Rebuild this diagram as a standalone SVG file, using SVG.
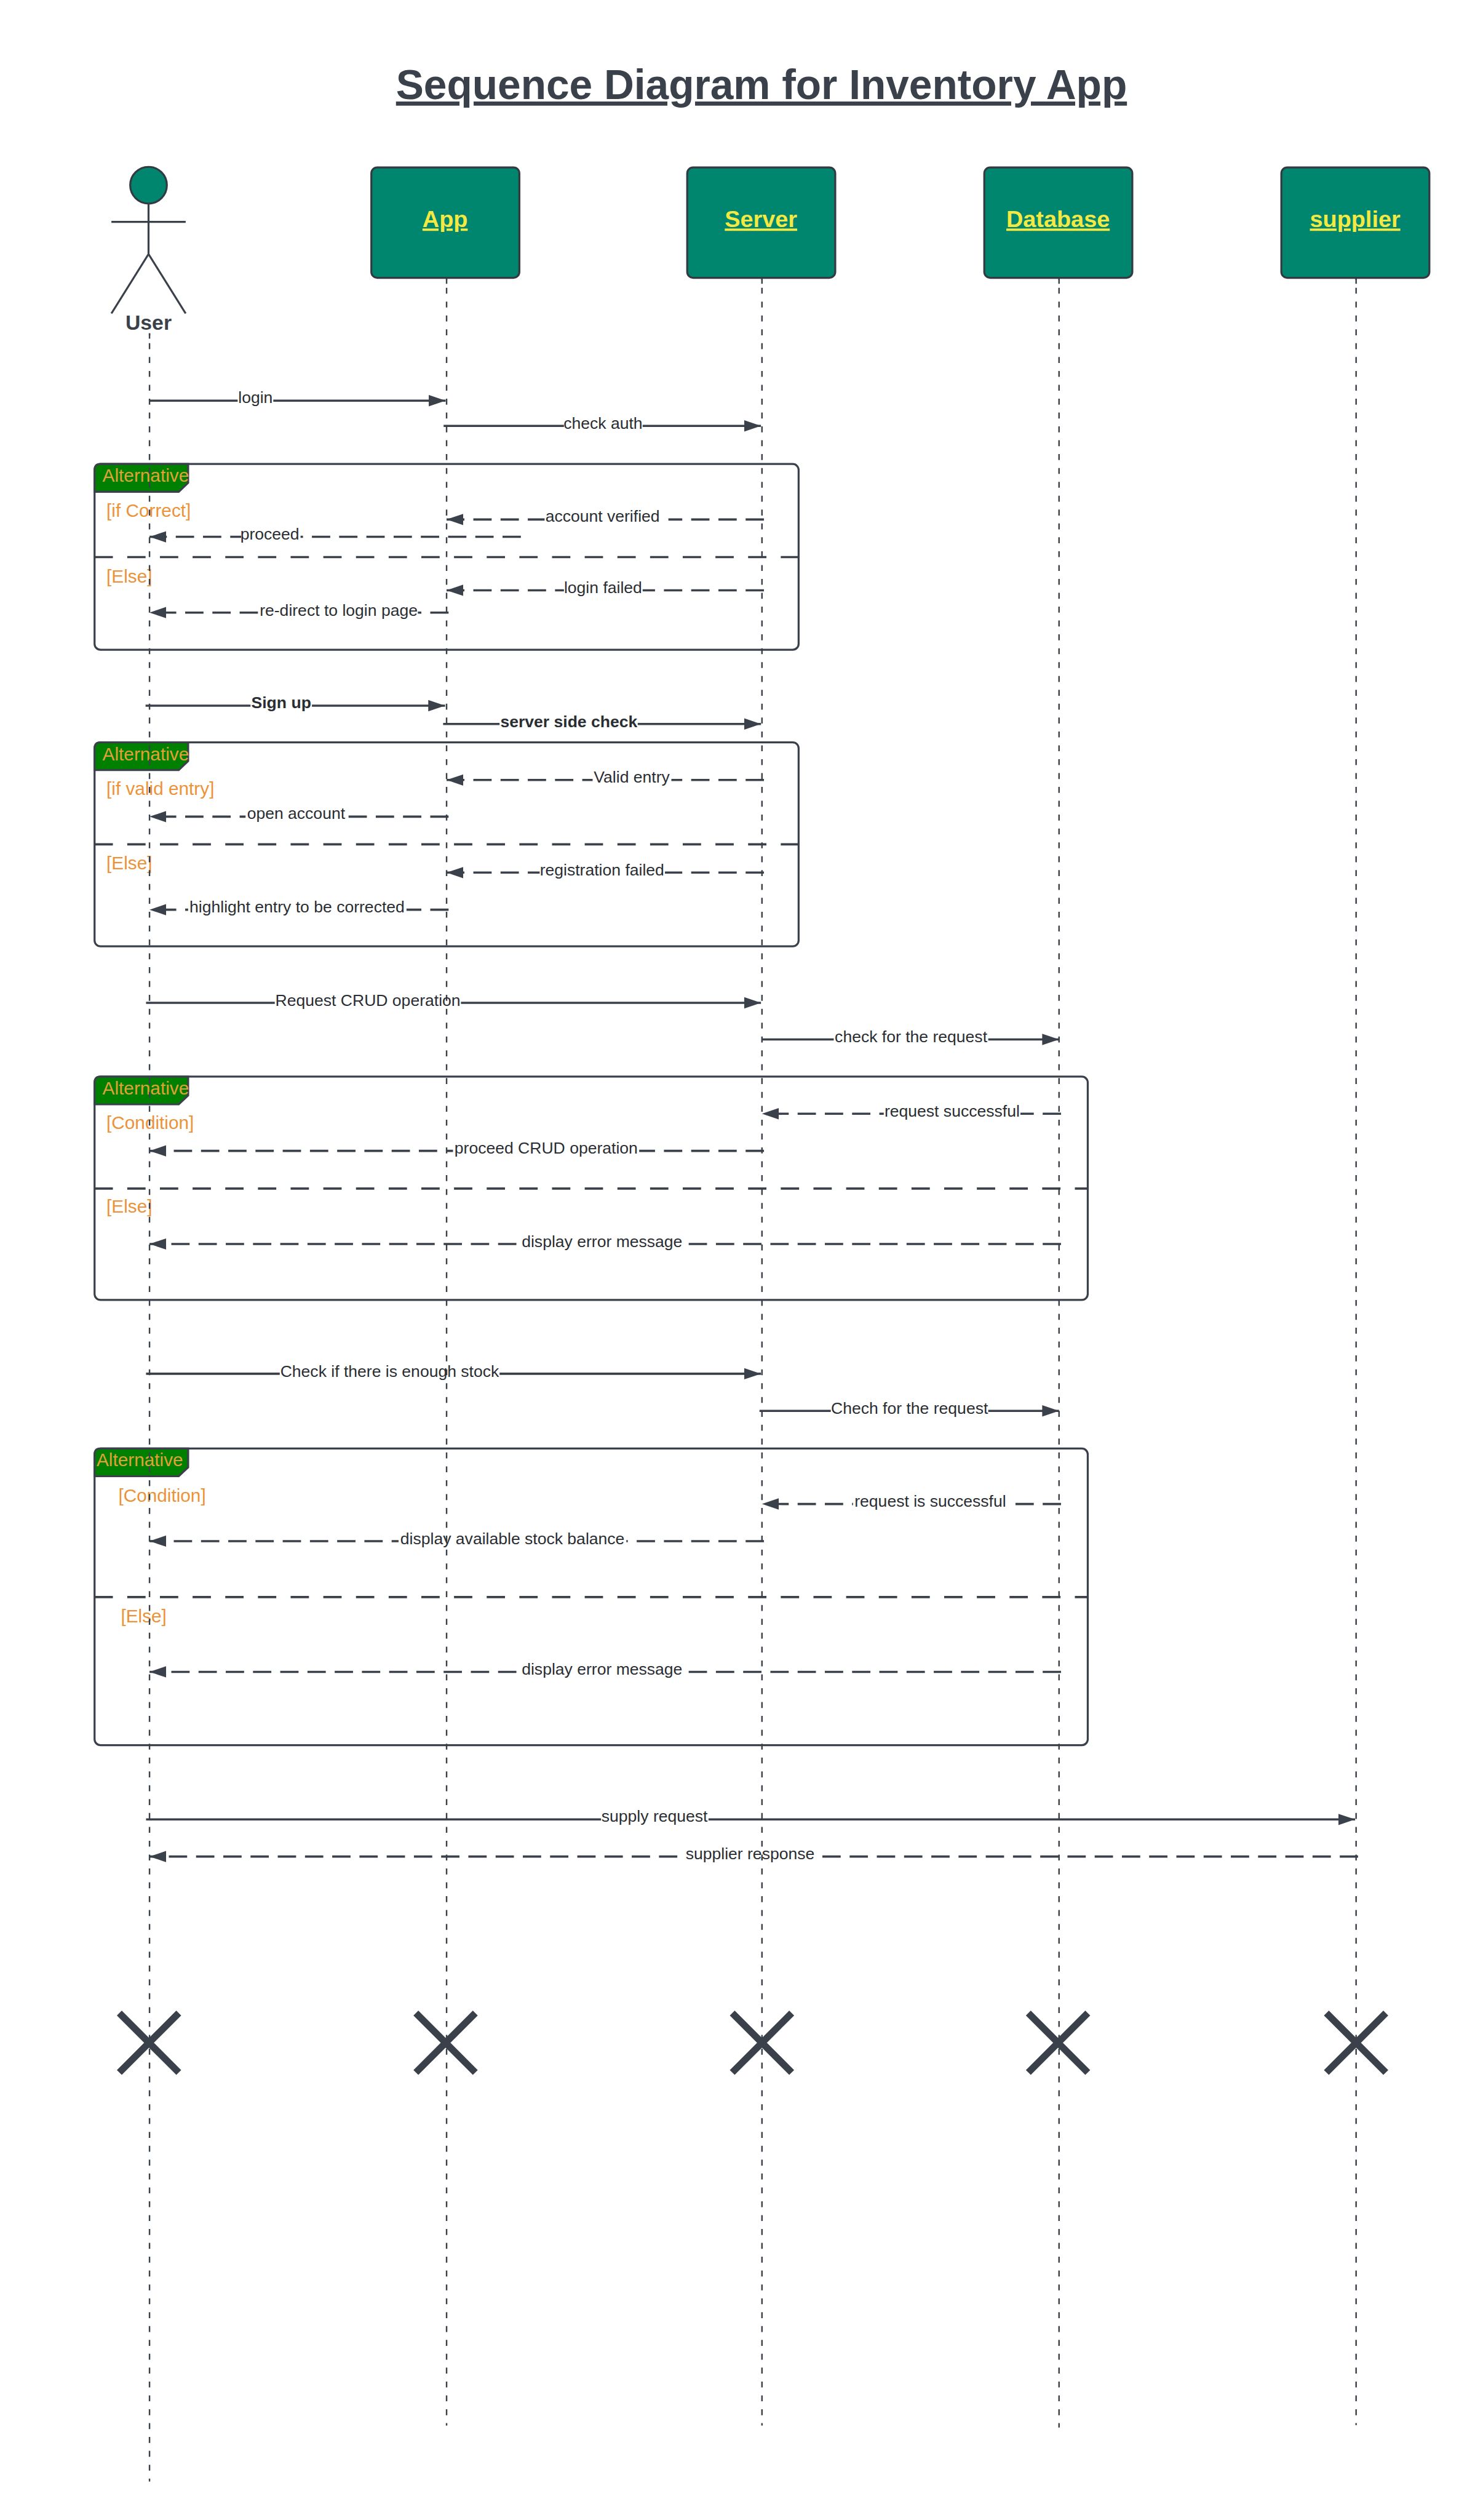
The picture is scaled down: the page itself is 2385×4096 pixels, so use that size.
<svg xmlns="http://www.w3.org/2000/svg" width="2385" height="4096" viewBox="0 0 2385 4096">
<style>
text{font-family:"Liberation Sans",Arial,sans-serif}
.box{fill:#00866e;stroke:#333b42;stroke-width:4}
.nm{font-size:47px;font-weight:bold;fill:#f4e842;text-anchor:middle;text-decoration:underline}
.frame{fill:none;stroke:#3a414a;stroke-width:4}
.tab{fill:#008000;stroke:#3a414a;stroke-width:4}
.alt{font-size:37px;fill:#e2a035}
.cond{font-size:37px;fill:#ec9238}
.div{fill:none;stroke:#3a414a;stroke-width:4.5;stroke-dasharray:37 29}
.life{fill:none;stroke:#3a414a;stroke-width:3;stroke-dasharray:12 16;stroke-dashoffset:10}
.stub{fill:none;stroke:#3a414a;stroke-width:3}
.s{fill:none;stroke:#3a414a;stroke-width:4.5;marker-end:url(#ah)}
.d{fill:none;stroke:#3a414a;stroke-width:4.5;stroke-dasharray:37 18;marker-end:url(#ah)}
.bg{fill:#fff}
.lb{font-size:33px;fill:#2a2e33;text-anchor:middle}
.b{font-weight:bold}
.x{fill:none;stroke:#3a414a;stroke-width:14}
.actor{fill:none;stroke:#3a414a;stroke-width:4}
</style>
<defs>
<marker id="ah" markerUnits="userSpaceOnUse" markerWidth="36" markerHeight="24" refX="34" refY="12" orient="auto"><path d="M0 0.5L34 12L0 23.5Z" fill="#3a414a"/></marker>
</defs>
<g transform="scale(0.80493)">
<text x="1538" y="200" font-size="84" font-weight="bold" fill="#3a414a" text-anchor="middle" text-decoration="underline" id="title">Sequence Diagram for Inventory App</text>

<g id="frame1"><rect class="frame" x="191" y="937" width="1422" height="375" rx="12"/><path class="tab" d="M191 993V949Q191 937 203 937H380V975L361 993Z"/><path class="div" d="M191 1125H1613"/><text class="alt" x="207" y="973">Alternative</text><text class="cond" x="215" y="1044">[if Correct]</text><text class="cond" x="215" y="1176">[Else]</text></g>
<g id="frame2"><rect class="frame" x="191" y="1499" width="1422" height="412" rx="12"/><path class="tab" d="M191 1555V1511Q191 1499 203 1499H380V1537L361 1555Z"/><path class="div" d="M191 1705H1613"/><text class="alt" x="207" y="1535">Alternative</text><text class="cond" x="215" y="1605">[if valid entry]</text><text class="cond" x="215" y="1756">[Else]</text></g>
<g id="frame3"><rect class="frame" x="191" y="2174" width="2006" height="451" rx="12"/><path class="tab" d="M191 2230V2186Q191 2174 203 2174H380V2212L361 2230Z"/><path class="div" d="M191 2400H2197"/><text class="alt" x="207" y="2210">Alternative</text><text class="cond" x="215" y="2280">[Condition]</text><text class="cond" x="215" y="2449">[Else]</text></g>
<g id="frame4"><rect class="frame" x="191" y="2925" width="2006" height="599" rx="12"/><path class="tab" d="M191 2981V2937Q191 2925 203 2925H380V2963L361 2981Z"/><path class="div" d="M191 3225H2197"/><text class="alt" x="195" y="2960">Alternative</text><text class="cond" x="239" y="3032">[Condition]</text><text class="cond" x="244" y="3276">[Else]</text></g>

<g id="connectors">
<path class="s" d="M302 809H900"/>
<path class="s" d="M896 860H1537"/>
<path class="d" d="M1543 1049H902"/>
<path class="d" d="M1052 1084H302"/>
<path class="d" d="M1543 1192H902"/>
<path class="d" d="M906 1237H302"/>
<path class="s" d="M294 1425H899"/>
<path class="s" d="M895 1462H1537"/>
<path class="d" d="M1543 1575H902"/>
<path class="d" d="M906 1649H302"/>
<path class="d" d="M1543 1762H902"/>
<path class="d" d="M906 1837H302"/>
<path class="s" d="M295 2025H1537"/>
<path class="s" d="M1539 2099H2139"/>
<path class="d" d="M2143 2249H1539"/>
<path class="d" d="M1543 2324H302"/>
<path class="d" d="M2143 2512H302"/>
<path class="s" d="M295 2774H1537"/>
<path class="s" d="M1534 2849H2139"/>
<path class="d" d="M2143 3037H1539"/>
<path class="d" d="M1543 3112H302"/>
<path class="d" d="M2143 3376H302"/>
<path class="s" d="M295 3674H2737"/>
<path class="d" d="M2743 3749H302"/>
<g class="bg">
<rect x="480" y="790" width="72" height="36"/><rect x="1139" y="842" width="159" height="36"/><rect x="1100" y="1030" width="250" height="36"/><rect x="487" y="1066" width="120" height="36"/><rect x="1139" y="1173" width="159" height="36"/><rect x="524" y="1219" width="320" height="36"/><rect x="506" y="1406" width="124" height="36"/><rect x="1009" y="1444" width="279" height="36"/><rect x="1197" y="1556" width="159" height="36"/><rect x="496" y="1630" width="205" height="36"/><rect x="1090" y="1744" width="253" height="36"/><rect x="380" y="1819" width="441" height="36"/><rect x="555" y="2007" width="376" height="36"/><rect x="1684" y="2080" width="312" height="36"/><rect x="1785" y="2231" width="276" height="36"/><rect x="915" y="2305" width="376" height="36"/><rect x="1051" y="2494" width="331" height="36"/><rect x="565" y="2756" width="444" height="36"/><rect x="1678" y="2831" width="318" height="36"/><rect x="1723" y="3019" width="312" height="36"/><rect x="805" y="3094" width="460" height="36"/><rect x="1051" y="3358" width="331" height="36"/><rect x="1214" y="3655" width="217" height="36"/><rect x="1382" y="3730" width="266" height="36"/>
</g>
<path class="life" style="stroke-dashoffset:8" d="M302 673V5011"/>
<path class="life" d="M902 563V4898"/>
<path class="life" d="M1539 563V4898"/>
<path class="life" d="M2139 563V4902"/>
<path class="life" d="M2739 563V4897"/>
<path class="stub" d="M302 673V684M902 563V573M1539 563V573M2139 563V573M2739 557V573"/>
<text class="lb" x="516" y="814">login</text>
<text class="lb" x="1218" y="866">check auth</text>
<text class="lb" x="1217" y="1054">account verified</text>
<text class="lb" x="545" y="1090">proceed</text>
<text class="lb" x="1218" y="1197">login failed</text>
<text class="lb" x="684" y="1243">re-direct to login page</text>
<text class="lb b" x="568" y="1430">Sign up</text>
<text class="lb b" x="1149" y="1468">server side check</text>
<text class="lb" x="1276" y="1580">Valid entry</text>
<text class="lb" x="598" y="1654">open account</text>
<text class="lb" x="1216" y="1768">registration failed</text>
<text class="lb" x="600" y="1843">highlight entry to be corrected</text>
<text class="lb" x="743" y="2031">Request CRUD operation</text>
<text class="lb" x="1840" y="2104">check for the request</text>
<text class="lb" x="1923" y="2255">request successful</text>
<text class="lb" x="1103" y="2329">proceed CRUD operation</text>
<text class="lb" x="1216" y="2518">display error message</text>
<text class="lb" x="787" y="2780">Check if there is enough stock</text>
<text class="lb" x="1837" y="2855">Chech for the request</text>
<text class="lb" x="1879" y="3043">request is successful</text>
<text class="lb" x="1035" y="3118">display available stock balance</text>
<text class="lb" x="1216" y="3382">display error message</text>
<text class="lb" x="1322" y="3679">supply request</text>
<text class="lb" x="1515" y="3754">supplier response</text>
</g>

<g id="user"><ellipse cx="300" cy="374" rx="37" ry="37" fill="#00866e" stroke="#333b42" stroke-width="4"/><path class="actor" d="M300 411V513M225 448H375M225 633L300 513L375 633"/><text x="300" y="666" font-size="42" font-weight="bold" fill="#3a414a" text-anchor="middle">User</text></g>
<g id="app"><rect class="box" x="750" y="338" width="299" height="223" rx="12"/><text class="nm" x="899" y="459">App</text></g>
<g id="server"><rect class="box" x="1388" y="338" width="299" height="223" rx="12"/><text class="nm" x="1537" y="459">Server</text></g>
<g id="database"><rect class="box" x="1988" y="338" width="299" height="223" rx="12"/><text class="nm" x="2137" y="459">Database</text></g>
<g id="supplier"><rect class="box" x="2588" y="338" width="299" height="223" rx="12"/><text class="nm" x="2737" y="459">supplier</text></g>

<g id="destroy-marks" class="x">
<path d="M241 4065L361 4185M361 4065L241 4185"/>
<path d="M840 4065L960 4185M960 4065L840 4185"/>
<path d="M1479 4065L1599 4185M1599 4065L1479 4185"/>
<path d="M2077 4065L2197 4185M2197 4065L2077 4185"/>
<path d="M2679 4065L2799 4185M2799 4065L2679 4185"/>
</g>
</g>
</svg>
